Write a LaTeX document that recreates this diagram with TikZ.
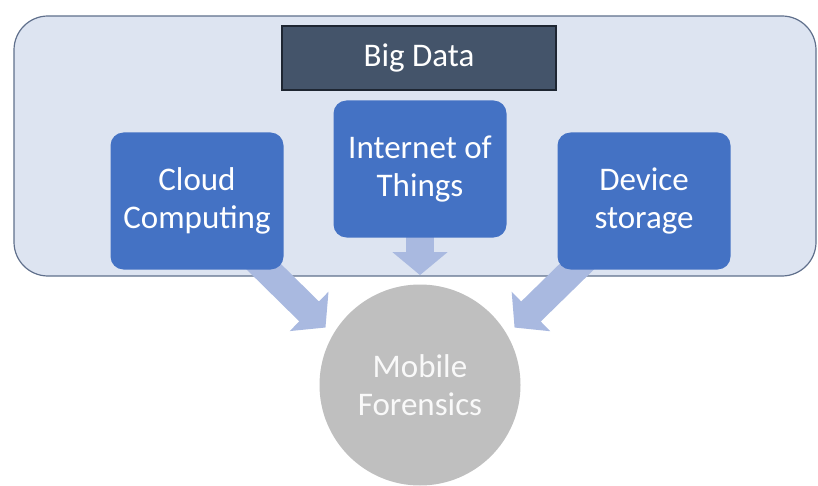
\documentclass[tikz,border=0pt]{standalone}
\usepackage{fontspec}
\setmainfont{Carlito}
\usetikzlibrary{arrows.meta,calc}
\definecolor{panelfill}{RGB}{221,228,241}
\definecolor{paneldraw}{RGB}{96,112,140}
\definecolor{headfill}{RGB}{68,84,106}
\definecolor{headdraw}{RGB}{30,38,50}
\definecolor{boxblue}{RGB}{68,114,196}
\definecolor{arrowblue}{RGB}{169,185,224}
\definecolor{discgray}{RGB}{191,191,191}
\pgfdeclarelayer{back}
\pgfdeclarelayer{mid}
\pgfsetlayers{back,mid,main}
\tikzset{
  label font/.style={font=\fontsize{16.5}{18.8}\selectfont, align=center},
  topic/.style={label font, fill=boxblue, text=white, rounded corners=6.5pt,
    minimum width=86.5pt, minimum height=68.5pt, inner sep=0pt},
  feed/.style={draw=arrowblue, line width=14pt,
    -{Triangle[width=27pt,length=11.5pt]}}
}

\begin{document}
\begin{tikzpicture}[x=0.5pt,y=-0.5pt]
        \useasboundingbox (0,0) rectangle (818,486);
        % Header and the three topics
        \node[label font, fill=headfill, draw=headdraw, line width=0.8pt, text=white,
          minimum width=137pt, minimum height=32pt, inner sep=0pt] (big) at (419,58) {Big Data};
        \node[topic] (cloud) at (197,201) {Cloud\\Computing};
        \node[topic] (iot) at (420,169) {Internet of\\Things};
        \node[topic] (dev) at (644,201) {Device\\storage};
        % Target disc
        \node[label font, circle, fill=discgray, text=white!95!gray,
          minimum size=100.5pt, inner sep=0pt] (mf) at (420,385) {Mobile\\Forensics};
        % Panel behind everything
        \begin{pgfonlayer}{back}
        \draw[fill=panelfill, draw=paneldraw, line width=0.6pt, rounded corners=17pt]
          (14,16) rectangle (816,276);
        \end{pgfonlayer}
        % Block arrows into the disc
        \begin{pgfonlayer}{mid}
        \draw[feed, shorten >=5pt] (cloud.center) -- (mf.150);
        \draw[feed, shorten >=4.5pt] (iot.center) -- (mf);
        \draw[feed, shorten >=5pt] (dev.center) -- (mf.30);
        \end{pgfonlayer}
      \end{tikzpicture}
\end{document}
